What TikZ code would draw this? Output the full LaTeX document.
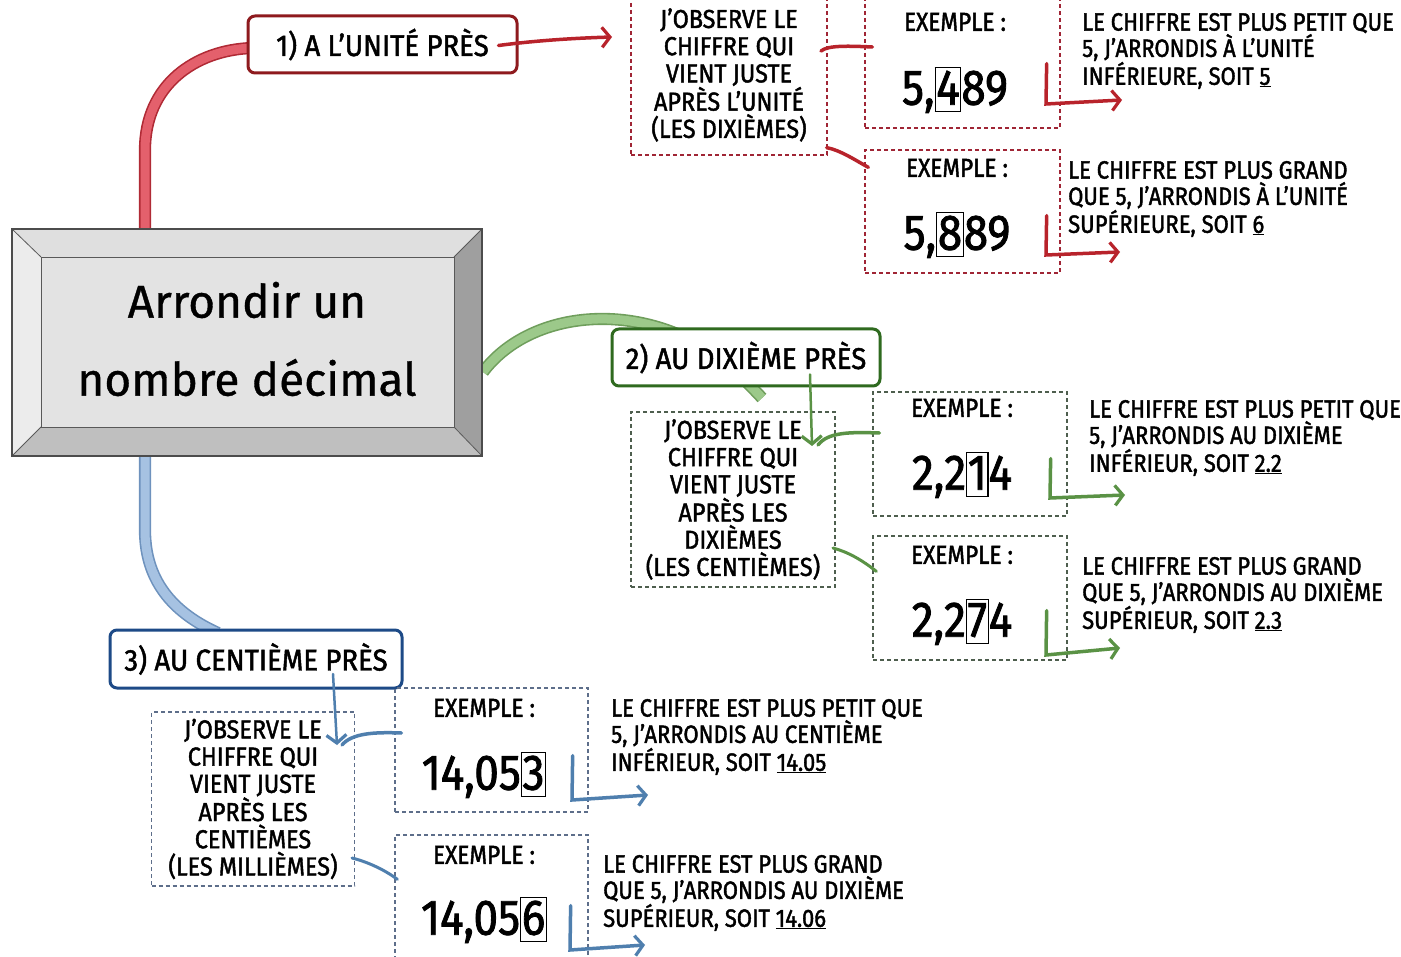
\documentclass[tikz,border=0pt]{standalone}
\usepackage{fontspec}
\setmainfont{Fira Sans}
\newfontfamily\resf{Fira Sans}[FakeStretch=0.88, FakeBold=1.6]
\newfontfamily\hdrf{Fira Sans}[FakeStretch=0.92, FakeBold=1.6]
\newfontfamily\obsf{Fira Sans}[FakeStretch=0.9, FakeBold=1.6]
\newfontfamily\exf{Fira Sans}[FakeStretch=0.87, FakeBold=1.6]
\newfontfamily\numf{Fira Sans}[FakeStretch=0.88, FakeBold=1.6]
\newfontfamily\titlef{Fira Sans}[FakeBold=0.8]
\usetikzlibrary{arrows.meta}
\definecolor{rdark}{HTML}{8E1A1E}
\definecolor{rline}{HTML}{B8232B}
\definecolor{rfill}{HTML}{E4606C}
\definecolor{rout}{HTML}{B02A35}
\definecolor{rdash}{HTML}{A02535}
\definecolor{gdark}{HTML}{2F6A1F}
\definecolor{gline}{HTML}{5A9245}
\definecolor{gfill}{HTML}{9CC98A}
\definecolor{gout}{HTML}{6F9E5C}
\definecolor{gdash}{HTML}{4E5E4E}
\definecolor{bdark}{HTML}{1D4A87}
\definecolor{bline}{HTML}{4F7FAE}
\definecolor{bfill}{HTML}{A6C2E2}
\definecolor{bout}{HTML}{6E92BD}
\definecolor{bdash}{HTML}{5D6E8A}
\newcommand\dbox[1]{{\setlength\fboxsep{0.5pt}\setlength\fboxrule{1.2pt}\fbox{\rule[-6pt]{0pt}{42pt}#1}}}
\begin{document}
\begin{tikzpicture}[x=1pt,y=-1pt,
  hdr/.style={draw, line width=3pt, rounded corners=7pt, fill=white, inner sep=0pt,
    font=\hdrf\fontsize{30}{32}\selectfont},
  obs/.style={draw, dash pattern=on 4pt off 3pt, line width=1.3pt, align=center, inner sep=0pt,
    font=\obsf\fontsize{26}{27.2}\selectfont},
  exbox/.style={draw, dash pattern=on 4pt off 3pt, line width=1.3pt, inner sep=0pt},
  res/.style={align=left, anchor=west, inner sep=0pt, font=\resf\fontsize{25}{26.3}\selectfont},
  exl/.style={inner sep=0pt, font=\exf\fontsize{26}{28}\selectfont},
  num/.style={inner sep=0pt, font=\numf\fontsize{50}{52}\selectfont},
  conn/.style={line width=3.5pt, line cap=round},
  tip/.style={-{Straight Barb[length=8pt,width=20pt,line width=3.2pt]}},
  branch/.style={line width=1.6pt, double distance=9pt}
]
\useasboundingbox (0,0) rectangle (1401,957);
\fill[white] (0,0) rectangle (1401,957);

% ---- branches ----
\coordinate (rb0) at (145,229);
\coordinate (gb0) at (483,372);
\coordinate (bb0) at (145,456);
\draw[branch, draw=rout, double=rfill] (rb0) -- (145,150) .. controls (145,85) and (195,50) .. (252,48);
\draw[branch, draw=gout, double=gfill] (gb0) .. controls (525,316) and (620,300) .. (700,345) .. controls (728,362) and (745,380) .. (762,398);
\draw[branch, draw=bout, double=bfill] (bb0) -- (145,530) .. controls (145,585) and (178,615) .. (218,633);

% ---- central bevel box ----
\fill[gray!25] (12,229) -- (482,229) -- (454,257) -- (41,257) -- cycle;
\fill[gray!15] (12,229) -- (41,257) -- (41,427) -- (12,456) -- cycle;
\fill[gray!75] (482,229) -- (482,456) -- (454,427) -- (454,257) -- cycle;
\fill[gray!50] (12,456) -- (41,427) -- (454,427) -- (482,456) -- cycle;
\fill[gray!22] (41,257) rectangle (454,427);
\draw[gray!70!black, line width=0.8pt] (12,229) -- (41,257) (482,229) -- (454,257) (12,456) -- (41,427) (482,456) -- (454,427);
\draw[gray!70!black, line width=0.8pt] (41,257) rectangle (454,427);
\draw[black!70, line width=1.2pt] (12,229) rectangle (482,456);
\node[align=center, inner sep=0pt, font=\titlef\fontsize{46}{78}\selectfont] (main) at (247,339) {Arrondir un\\nombre décimal};

% ---- headers ----
\node[hdr, draw=rdark, minimum width=269pt, minimum height=57pt] (h1) at (382.5,44.5) {1) A L’UNITÉ PRÈS};
\node[hdr, draw=gdark, minimum width=268pt, minimum height=57pt] (h2) at (746,357.5) {2) AU DIXIÈME PRÈS};
\node[hdr, draw=bdark, minimum width=292pt, minimum height=58pt] (h3) at (256,659) {3) AU CENTIÈME PRÈS};

% ---- observation boxes ----
\node[obs, draw=rdash, minimum width=196pt, minimum height=160pt] (o1) at (729,75)
  {J’OBSERVE LE\\CHIFFRE QUI\\VIENT JUSTE\\APRÈS L’UNITÉ\\(LES DIXIÈMES)};
\node[obs, draw=gdash, minimum width=204pt, minimum height=175pt] (o2) at (733,499.5)
  {J’OBSERVE LE\\CHIFFRE QUI\\VIENT JUSTE\\APRÈS LES\\DIXIÈMES\\(LES CENTIÈMES)};
\node[obs, draw=bdash, minimum width=203pt, minimum height=174pt] (o3) at (253,799)
  {J’OBSERVE LE\\CHIFFRE QUI\\VIENT JUSTE\\APRÈS LES\\CENTIÈMES\\(LES MILLIÈMES)};

% ---- example boxes ----
\node[exbox, draw=rdash, minimum width=195pt, minimum height=133pt] (e1a) at (962.5,61.5) {};
\node[exbox, draw=rdash, minimum width=195pt, minimum height=123pt] (e1b) at (962.5,211.5) {};
\node[exbox, draw=gdash, minimum width=194pt, minimum height=124pt] (e2a) at (970,454) {};
\node[exbox, draw=gdash, minimum width=194pt, minimum height=124pt] (e2b) at (970,598) {};
\node[exbox, draw=bdash, minimum width=193pt, minimum height=124pt] (e3a) at (491.5,750) {};
\node[exbox, draw=bdash, minimum width=193pt, minimum height=130pt] (e3b) at (491.5,900) {};

\node[exl] (x1a) at (955,22) {EXEMPLE :};
\node[exl] (x1b) at (957,168) {EXEMPLE :};
\node[exl] (x2a) at (962,408) {EXEMPLE :};
\node[exl] (x2b) at (962,555) {EXEMPLE :};
\node[exl] (x3a) at (484,708) {EXEMPLE :};
\node[exl] (x3b) at (484,855) {EXEMPLE :};

\node[num] (n1a) at (955,90) {5,\dbox{4}89};
\node[num] (n1b) at (957,235) {5,\dbox{8}89};
\node[num] (n2a) at (962,475) {2,2\dbox{1}4};
\node[num] (n2b) at (962,622) {2,2\dbox{7}4};
\node[num] (n3a) at (484,775) {14,05\dbox{3}};
\node[num] (n3b) at (484,920) {14,05\dbox{6}};

% ---- result texts ----
\node[res] (r1a) at (1082,51) {LE CHIFFRE EST PLUS PETIT QUE\\5, J’ARRONDIS À L’UNITÉ\\INFÉRIEURE, SOIT \underline{5}};
\node[res] (r1b) at (1068,199) {LE CHIFFRE EST PLUS GRAND\\QUE 5, J’ARRONDIS À L’UNITÉ\\SUPÉRIEURE, SOIT \underline{6}};
\node[res] (r2a) at (1089,438) {LE CHIFFRE EST PLUS PETIT QUE\\5, J’ARRONDIS AU DIXIÈME\\INFÉRIEUR, SOIT \underline{2.2}};
\node[res] (r2b) at (1082,595) {LE CHIFFRE EST PLUS GRAND\\QUE 5, J’ARRONDIS AU DIXIÈME\\SUPÉRIEUR, SOIT \underline{2.3}};
\node[res] (r3a) at (611,737) {LE CHIFFRE EST PLUS PETIT QUE\\5, J’ARRONDIS AU CENTIÈME\\INFÉRIEUR, SOIT \underline{14.05}};
\node[res] (r3b) at (603,893) {LE CHIFFRE EST PLUS GRAND\\QUE 5, J’ARRONDIS AU DIXIÈME\\SUPÉRIEUR, SOIT \underline{14.06}};

% ---- section 1 connectors (red) ----
\draw[conn, rline, tip] ([xshift=-20pt,yshift=-1pt]h1.east) .. controls (540,40) and (580,38) .. (612,37);
\draw[conn, rline] ([xshift=8pt,yshift=14.5pt]e1a.west) .. controls (850,46) and (828,45) .. (821,51);
\draw[conn, rline] ([xshift=-1pt,yshift=8pt]o1.south east) .. controls (840,150) and (855,160) .. ([xshift=4pt,yshift=-18pt]e1b.north west);
\draw[conn, rline, tip] ([xshift=-14pt,yshift=65pt]e1a.south east) -- (1046,104) -- (1122,100);
\draw[conn, rline, tip] ([xshift=-14pt,yshift=58pt]e1b.south east) -- (1046,255) -- (1120,252);

% ---- section 2 connectors (green) ----
\draw[conn, gline, line width=2.5pt, tip] ([xshift=64pt,yshift=-17pt]h2.center) -- (812,446);
\draw[conn, gline] ([xshift=7pt,yshift=21pt]e2a.west) .. controls (850,432) and (828,432) .. (818,445);
\draw[conn, gline, line width=3pt] (833,548) .. controls (848,552) and (862,560) .. ([xshift=4pt,yshift=-36pt]e2b.north west);
\draw[conn, gline, tip] ([xshift=-17pt,yshift=58pt]e2a.south east) -- (1050,498) -- (1125,495);
\draw[conn, gline, tip] ([xshift=-21pt,yshift=50pt]e2b.south east) -- (1046,655) -- (1120,648);

% ---- section 3 connectors (blue) ----
\draw[conn, bline, line width=2.5pt, tip] ([xshift=77pt,yshift=-15pt]h3.center) -- (337,745);
\draw[conn, bline] ([xshift=7pt,yshift=17pt]e3a.west) .. controls (375,732) and (352,733) .. (342,745);
\draw[conn, bline, line width=3pt] (352,858) .. controls (368,862) and (385,870) .. ([xshift=3pt,yshift=-45pt]e3b.north west);
\draw[conn, bline, tip] ([xshift=-16pt,yshift=57pt]e3a.south east) -- (572,800) -- (648,795);
\draw[conn, bline, tip] ([xshift=-18pt,yshift=60pt]e3b.south east) -- (570,950) -- (645,945);
\end{tikzpicture}
\end{document}
